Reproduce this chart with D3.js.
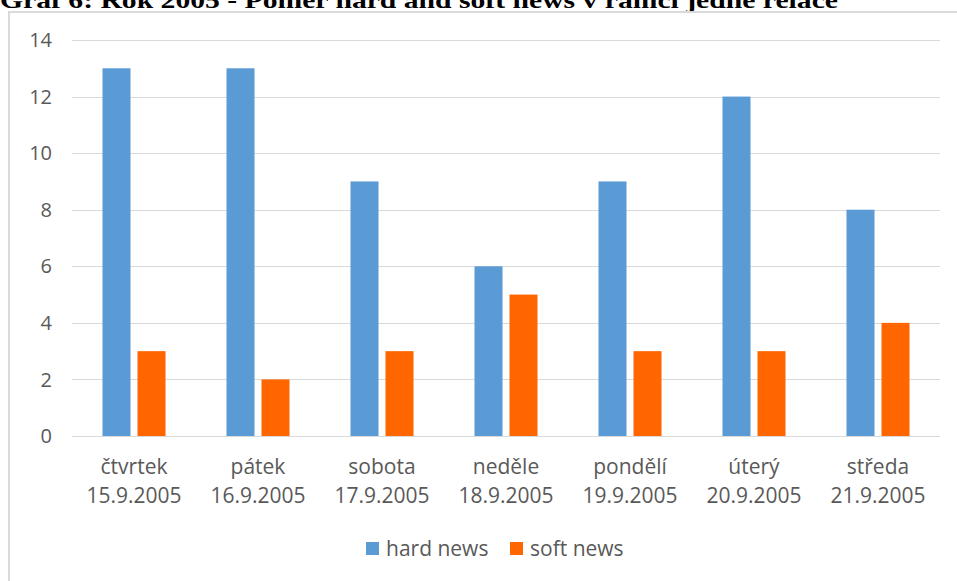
<!DOCTYPE html>
<html><head><meta charset="utf-8">
<script src="https://cdn.jsdelivr.net/npm/d3@7"></script>
<style>body{margin:0;background:#fff;}svg{display:block;}</style>
</head><body>
<svg id="c" width="957" height="581"></svg>
<script>
const title = "Graf 6: Rok 2005 - Poměr hard and soft news v rámci jedné relace";
const days = ["čtvrtek","pátek","sobota","neděle","pondělí","úterý","středa"];
const dates = ["15.9.2005","16.9.2005","17.9.2005","18.9.2005","19.9.2005","20.9.2005","21.9.2005"];
const hardNews = [13,13,9,6,9,12,8];
const softNews = [3,2,3,5,3,3,4];
const seriesNames = ["hard news","soft news"];
const yTicks = [0,2,4,6,8,10,12,14];
const colors = ["#5B9BD5","#FF6600"];

const svg = d3.select("#c");
const textColor = "#595959";
const font = "'Open Sans', sans-serif";

// title (clipped at top, as in the source)
svg.append("text").attr("x",0).attr("y",8)
  .attr("font-family","'Liberation Serif', 'Times New Roman', serif")
  .attr("font-weight","bold").attr("font-size",24)
  .attr("textLength",838).attr("lengthAdjust","spacingAndGlyphs")
  .text(title);

// chart frame
svg.append("path").attr("d","M9,581 V12 H957").attr("fill","none")
  .attr("stroke","#d9d9d9").attr("stroke-width",2);

const x0 = d3.scaleBand().domain(days).range([72,940]).paddingInner(0).paddingOuter(0);
const y = d3.scaleLinear().domain([0,14]).range([436,40]);

// gridlines
svg.append("g").selectAll("line").data(yTicks).join("line")
  .attr("x1",72).attr("x2",940)
  .attr("y1",d=>Math.round(y(d))+0.5).attr("y2",d=>Math.round(y(d))+0.5)
  .attr("stroke","#d9d9d9").attr("stroke-width",1);

// y labels
svg.append("g").selectAll("text").data(yTicks).join("text")
  .attr("x",52).attr("y",d=>y(d)).attr("dy","0.36em")
  .attr("text-anchor","end").attr("font-family",font).attr("font-size",20)
  .attr("fill",textColor).text(d=>d);

const barW = 28, gap = 7;
const data = days.map((d,i)=>({day:d, vals:[hardNews[i], softNews[i]]}));
const groups = svg.append("g").selectAll("g").data(data).join("g");
groups.selectAll("rect").data(d=>d.vals.map((v,k)=>({day:d.day,v,k}))).join("rect")
  .attr("x",d=>{const c = x0(d.day)+x0.bandwidth()/2; return d.k===0 ? c - gap/2 - barW : c + gap/2;})
  .attr("y",d=>y(d.v)).attr("width",barW).attr("height",d=>y(0)-y(d.v))
  .attr("fill",d=>colors[d.k]);

// x labels
const xl = svg.append("g").selectAll("text").data(days).join("text")
  .attr("x",d=>x0(d)+x0.bandwidth()/2).attr("text-anchor","middle")
  .attr("font-family",font).attr("font-size",21).attr("fill",textColor);
xl.append("tspan").attr("y",474).attr("x",d=>x0(d)+x0.bandwidth()/2).text(d=>d);
xl.append("tspan").attr("y",503).attr("x",d=>x0(d)+x0.bandwidth()/2).text((d,i)=>dates[i]);

// legend
const legX = [366,510];
const lg = svg.append("g").selectAll("g").data(seriesNames).join("g");
lg.append("rect").attr("x",(d,i)=>legX[i]).attr("y",542).attr("width",13).attr("height",13)
  .attr("fill",(d,i)=>colors[i]);
lg.append("text").attr("x",(d,i)=>legX[i]+20).attr("y",556)
  .attr("font-family",font).attr("font-size",21).attr("fill",textColor).text(d=>d);
</script>
</body></html>
